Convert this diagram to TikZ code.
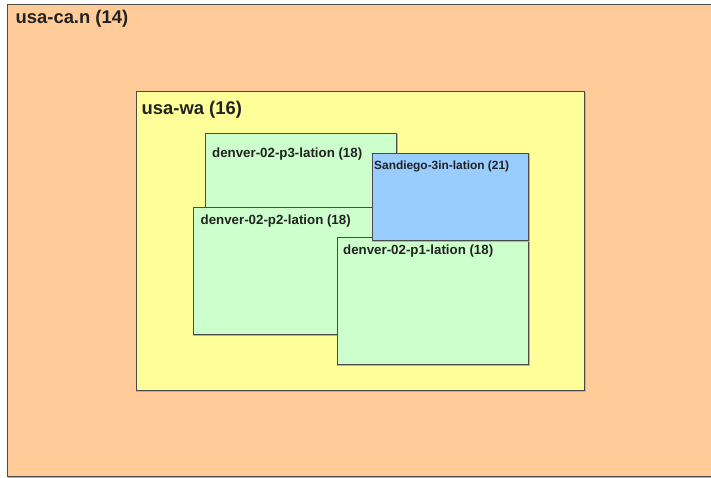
\documentclass[tikz,border=0pt]{standalone}
\usepackage{fontspec}
\setmainfont{Liberation Sans}
\definecolor{outerfill}{HTML}{FFCC99}
\definecolor{wafill}{HTML}{FFFF99}
\definecolor{greenfill}{HTML}{CCFFCC}
\definecolor{bluefill}{HTML}{99CCFF}
\definecolor{edge}{HTML}{4A4A4A}
\definecolor{txt}{HTML}{222222}
\tikzset{
  box/.style={draw=edge, line width=1pt, anchor=north west, inner sep=0pt, outer sep=0pt,
    drop shadow box},
  drop shadow box/.style={preaction={draw=black!30, line width=1.2pt, transform canvas={shift={(1pt,-1pt)}}}},
  lbl/.style={anchor=west, inner sep=0pt, text=txt, font=\bfseries},
  biglbl/.style={lbl, font=\bfseries\fontsize{18.4}{21}\selectfont},
  midlbl/.style={lbl, font=\bfseries\fontsize{13.3}{15}\selectfont},
  smalllbl/.style={lbl, font=\bfseries\fontsize{11.9}{14}\selectfont},
}
\begin{document}
\begin{tikzpicture}[x=1pt,y=-1pt]
\useasboundingbox (0,0) rectangle (711,478);
\clip (0,0) rectangle (711,478);
\fill[white] (0,0) rectangle (711,478);
\node[box, fill=outerfill, minimum width=712.5pt, minimum height=472pt] (ca) at (7.5,4.5) {};
\node[biglbl] (calbl) at (15.5,18.5) {usa-ca.n (14)};
\node[box, fill=wafill, minimum width=448.5pt, minimum height=298pt] (wa) at (136,92) {};
\node[biglbl] (walbl) at (141.5,110) {usa-wa (16)};
\node[box, fill=greenfill, minimum width=190.5pt, minimum height=110pt] (p3) at (205.5,134) {};
\node[midlbl] (p3lbl) at (212,154.5) {denver-02-p3-lation (18)};
\node[box, fill=greenfill, minimum width=200pt, minimum height=127pt] (p2) at (193,207.5) {};
\node[midlbl] (p2lbl) at (200.5,221) {denver-02-p2-lation (18)};
\node[box, fill=greenfill, minimum width=191pt, minimum height=126.5pt] (p1) at (337,237.5) {};
\node[midlbl] (p1lbl) at (343,251) {denver-02-p1-lation (18)};
\node[box, fill=bluefill, minimum width=156pt, minimum height=86.5pt] (sd) at (372,154) {};
\node[smalllbl] (sdlbl) at (374,166) {Sandiego-3in-lation (21)};
\end{tikzpicture}
\end{document}
